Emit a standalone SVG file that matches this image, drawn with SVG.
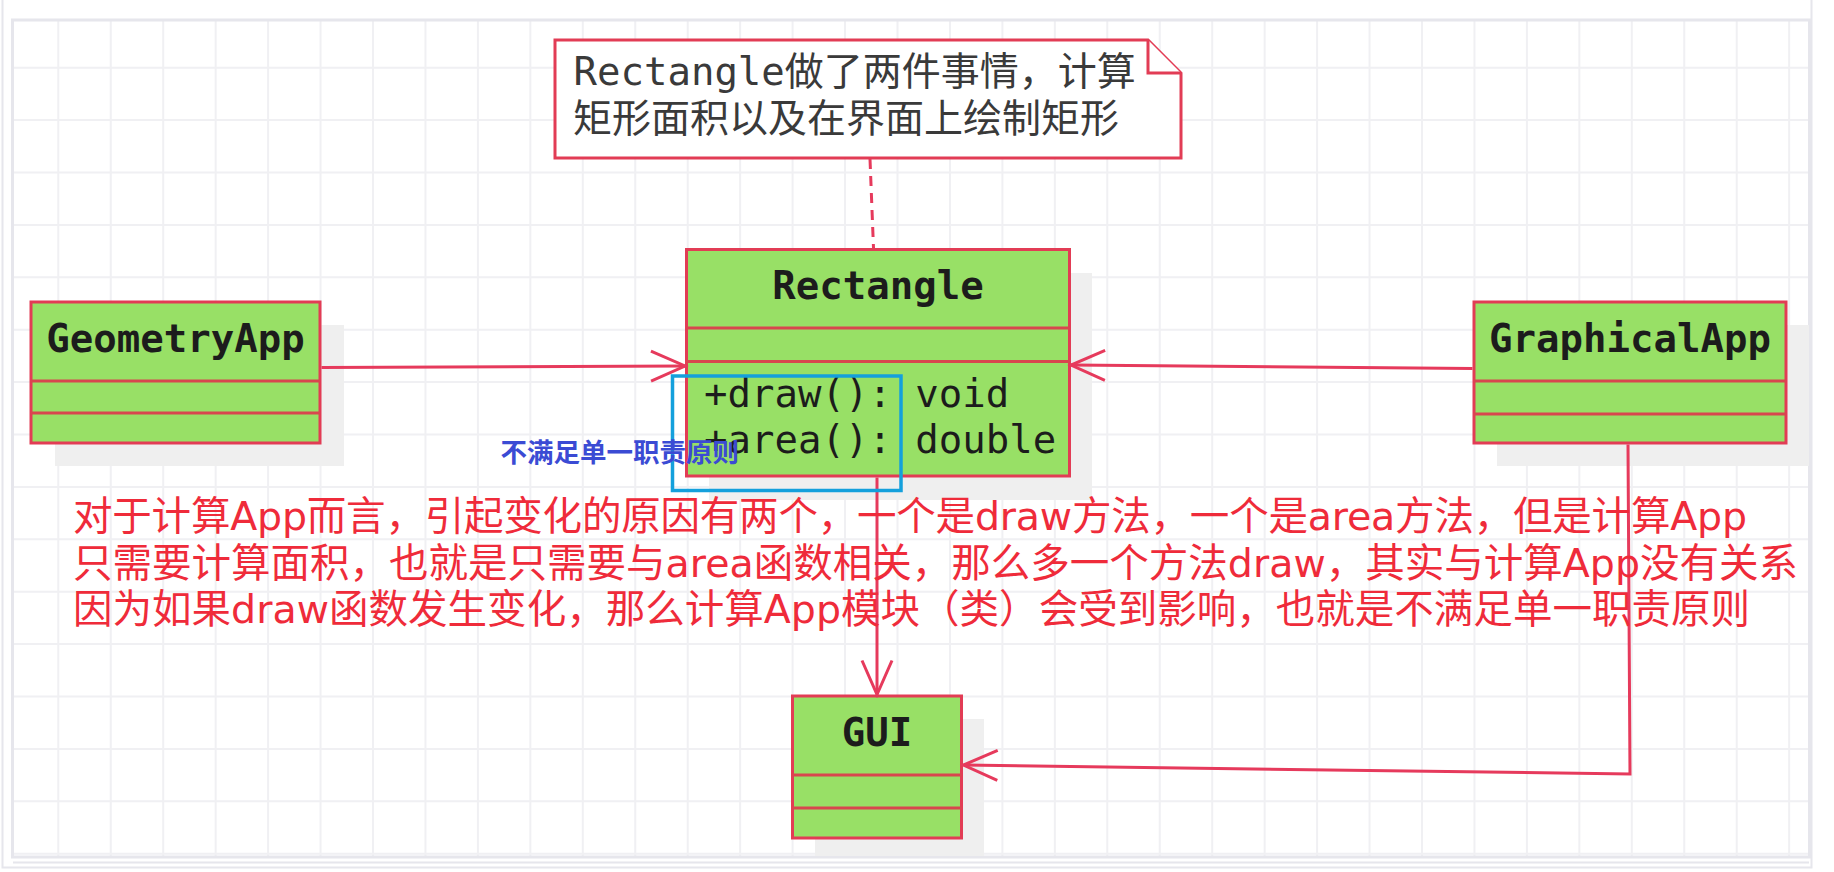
<svg xmlns="http://www.w3.org/2000/svg" width="1834" height="872" viewBox="0 0 1834 872">
<style>
.grid{stroke:#f0f0f3;stroke-width:2;fill:none}
.frame{stroke:#e6e6ec;fill:none}
.shadow{fill:#efefef}
.box{fill:#98e066;stroke:#e23c55;stroke-width:3}
.div{stroke:#d8474e;stroke-width:3}
.conn{stroke:#e63a5c;stroke-width:3;fill:none}
.mono{font-family:"DejaVu Sans Mono","Liberation Mono","Noto Sans CJK SC",monospace;font-size:39px;fill:#1c1c1c}
.title{font-weight:bold;text-anchor:middle}
.note{fill:#fff;stroke:#e23c55;stroke-width:3}
.notetxt{font-family:"DejaVu Sans Mono","Noto Sans CJK SC",monospace;font-size:39px;fill:#3a3a3a}
.red{font-family:"DejaVu Sans","Noto Sans CJK SC",sans-serif;font-size:39.5px;fill:#ef2b3a}
.blue{font-family:"Noto Sans CJK SC","Noto Sans",sans-serif;font-size:26.5px;font-weight:bold;fill:#3b4bd4}
</style>
<defs>
<marker id="open" markerUnits="userSpaceOnUse" markerWidth="50" markerHeight="40" viewBox="-42 -20 50 40" refX="0" refY="0" orient="auto">
<path d="M-34,-15 L0,0 L-34,15" fill="none" stroke="#e63a5c" stroke-width="3"/>
</marker>
</defs>
<rect x="0" y="0" width="1834" height="872" fill="#ffffff"/>
<g id="background">
<path class="grid" d="M58.3 21V856M110.75 21V856M163.2 21V856M215.65 21V856M268.1 21V856M320.55 21V856M373 21V856M425.45 21V856M477.9 21V856M530.35 21V856M582.8 21V856M635.25 21V856M687.7 21V856M740.15 21V856M792.6 21V856M845.05 21V856M897.5 21V856M949.95 21V856M1002.4 21V856M1054.85 21V856M1107.3 21V856M1159.75 21V856M1212.2 21V856M1264.65 21V856M1317.1 21V856M1369.55 21V856M1422 21V856M1474.45 21V856M1526.9 21V856M1579.35 21V856M1631.8 21V856M1684.25 21V856M1736.7 21V856M1789.15 21V856M14 67.7H1808M14 120.1H1808M14 172.5H1808M14 224.9H1808M14 277.3H1808M14 329.7H1808M14 382.1H1808M14 434.5H1808M14 486.9H1808M14 539.3H1808M14 591.7H1808M14 644.1H1808M14 696.5H1808M14 748.9H1808M14 801.3H1808M14 853.7H1808"/>
<rect class="frame" x="12.5" y="20" width="1797" height="837" stroke-width="3"/>
<path class="frame" d="M13 862.5H1809" stroke-width="2"/>
<path class="frame" d="M2.5 0V867.5H1811.5V0" stroke-width="2"/>
</g>
<g id="shadows">
<rect class="shadow" x="55" y="325" width="289" height="141"/>
<rect class="shadow" x="709" y="273" width="383" height="227"/>
<rect class="shadow" x="1497" y="325" width="312" height="141"/>
<rect class="shadow" x="815" y="719" width="169" height="137"/>
</g>
<g id="note">
<path class="note" d="M555 40H1148L1181 73V158H555Z"/>
<path class="note" d="M1148 40V73H1181" fill="none"/>
<text class="notetxt" x="573.5" y="85">Rectangle做了两件事情，计算</text>
<text class="notetxt" x="573" y="131.5">矩形面积以及在界面上绘制矩形</text>
</g>
<g id="GeometryApp">
<rect class="box" x="31" y="302" width="289" height="141"/>
<path class="div" d="M31 381H320M31 413H320"/>
<text class="mono title" x="175.5" y="352">GeometryApp</text>
</g>
<g id="Rectangle">
<rect class="box" x="686.5" y="249.5" width="383" height="226.5"/>
<path class="div" d="M686.5 328H1069.5M686.5 361.5H1069.5"/>
<text class="mono title" x="878" y="299">Rectangle</text>
<text class="mono" x="704" y="407">+draw(): void</text>
<text class="mono" x="704" y="453">+area(): double</text>
</g>
<g id="GraphicalApp">
<rect class="box" x="1474" y="302" width="312" height="141"/>
<path class="div" d="M1474 381H1786M1474 414H1786"/>
<text class="mono title" x="1630" y="352">GraphicalApp</text>
</g>
<g id="GUI">
<rect class="box" x="792.5" y="696" width="169" height="142"/>
<path class="div" d="M792.5 775H961.5M792.5 808H961.5"/>
<text class="mono title" x="877" y="746">GUI</text>
</g>
<g id="connectors">
<path class="conn" d="M870 159L873.5 248" stroke-dasharray="10 7"/>
<path class="conn" d="M321.5 367.5L685 366" marker-end="url(#open)"/>
<path class="conn" d="M1472.5 368.5L1071 365" marker-end="url(#open)"/>
<path class="conn" d="M877 477.5V694.5" marker-end="url(#open)"/>
<path class="conn" d="M1628 444.5L1630 774L963.5 765" marker-end="url(#open)"/>
</g>
<g id="highlight">
<rect x="672.5" y="376" width="228.5" height="114.5" fill="none" stroke="#14a0dc" stroke-width="3.5"/>
<text class="blue" x="500.5" y="462">不满足单一职责原则</text>
</g>
<g id="comment">
<text class="red" x="73" y="530" textLength="1674" lengthAdjust="spacing">对于计算App而言，引起变化的原因有两个，一个是draw方法，一个是area方法，但是计算App</text>
<text class="red" x="73" y="576.5" textLength="1725" lengthAdjust="spacing">只需要计算面积，也就是只需要与area函数相关，那么多一个方法draw，其实与计算App没有关系</text>
<text class="red" x="73" y="623" textLength="1677" lengthAdjust="spacing">因为如果draw函数发生变化，那么计算App模块（类）会受到影响，也就是不满足单一职责原则</text>
</g>
</svg>
